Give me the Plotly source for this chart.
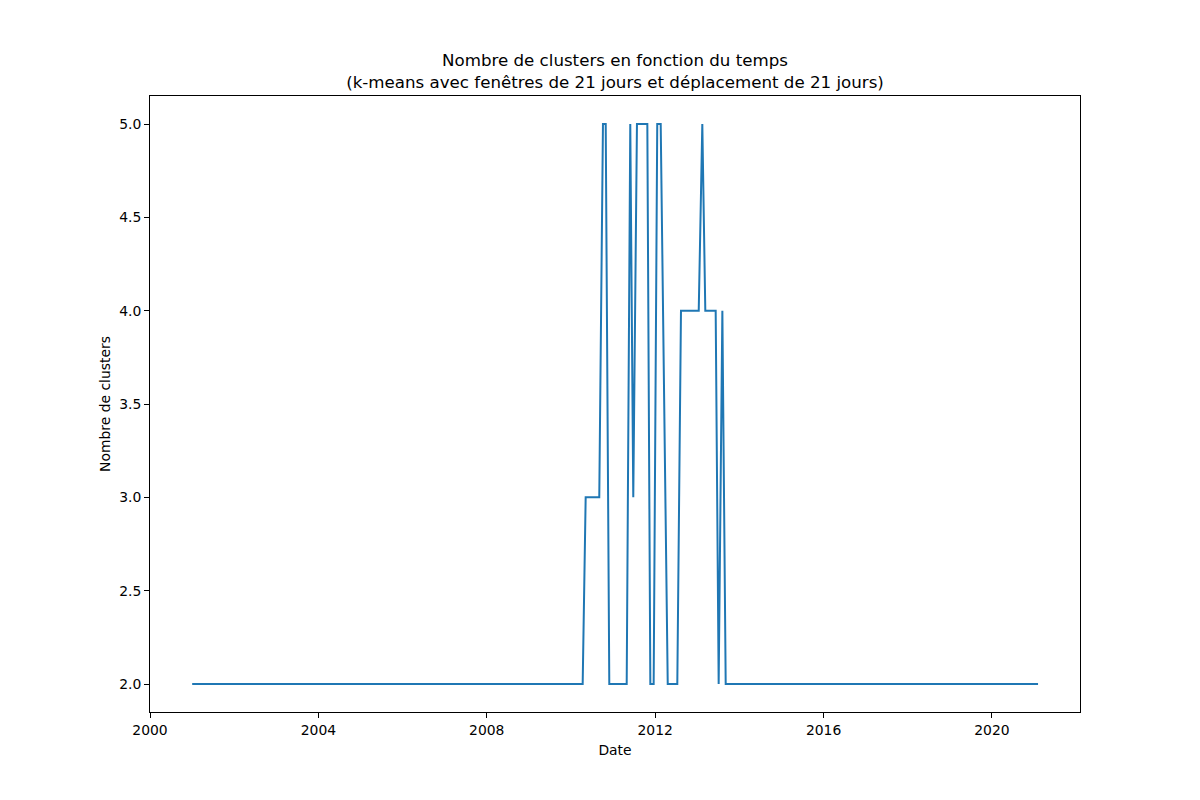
import plotly.graph_objects as go

# vertices of the line (change points, 21-day steps)
dates = ["2001-01-01", "2010-04-12", "2010-05-08", "2010-09-03", "2010-10-05",
         "2010-10-29", "2010-11-29", "2011-04-29", "2011-05-30", "2011-06-25",
         "2011-07-27", "2011-10-25", "2011-11-20", "2011-12-19", "2012-01-19",
         "2012-02-18", "2012-04-19", "2012-07-11", "2012-08-12", "2013-01-13",
         "2013-02-13", "2013-03-11", "2013-06-09", "2013-07-05", "2013-08-06",
         "2013-09-04", "2021-02-04"]
n_clusters = [2, 2, 3, 3, 5,
              5, 2, 2, 5, 3,
              5, 5, 2, 2, 5,
              5, 2, 2, 4, 4,
              5, 4, 4, 2, 4,
              2, 2]

x_ticks = ["2000-01-01", "2004-01-01", "2008-01-01", "2012-01-01", "2016-01-01", "2020-01-01"]
x_labels = ["2000", "2004", "2008", "2012", "2016", "2020"]
y_ticks = [2.0, 2.5, 3.0, 3.5, 4.0, 4.5, 5.0]

fig = go.Figure()
fig.add_trace(go.Scatter(x=dates, y=n_clusters, mode="lines",
                         line=dict(color="#1f77b4", width=2)))

# the page body adds an 8px margin, so the plot margins are shifted by 8
fig.update_layout(
    width=1200, height=800,
    paper_bgcolor="white", plot_bgcolor="white",
    margin=dict(l=142, r=128, t=88, b=96),
    font=dict(family="DejaVu Sans", size=13.9, color="black"),
    showlegend=False,
    title=dict(text="Nombre de clusters en fonction du temps<br>(k-means avec fenêtres de 21 jours et déplacement de 21 jours)",
               xref="paper", x=0.5, xanchor="center", y=0.9275, yanchor="top",
               font=dict(size=16.67), automargin=False),
)
fig.update_xaxes(range=["2000-01-01", "2022-02-03"], tickvals=x_ticks, ticktext=x_labels,
                 showgrid=False, zeroline=False, showline=True, linecolor="black",
                 mirror=True, ticks="outside", ticklen=5, tickcolor="black",
                 tickfont=dict(size=13.9), automargin=False,
                 title=dict(text="Date", standoff=8, font=dict(size=13.9)))
fig.update_yaxes(range=[1.85, 5.15], tickvals=y_ticks, tickformat=".1f",
                 showgrid=False, zeroline=False, showline=True, linecolor="black",
                 mirror=True, ticks="outside", ticklen=5, tickcolor="black",
                 tickfont=dict(size=13.9), automargin=False,
                 title=dict(text="Nombre de clusters", standoff=5, font=dict(size=13.9)))

fig.write_html("out.html")
